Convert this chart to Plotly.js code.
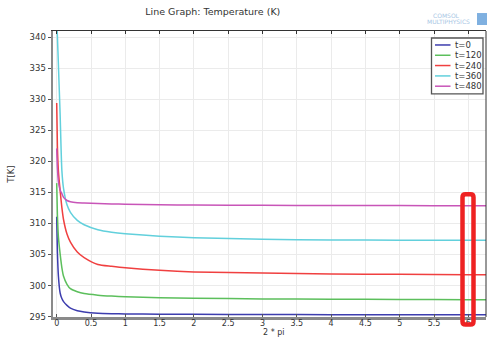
<!DOCTYPE html>
<html>
<head>
<meta charset="utf-8">
<script src="https://cdn.plot.ly/plotly-3.0.1.min.js"></script>
<style>
html,body{margin:0;padding:0;background:#fff;}
#chart{width:487px;height:337px;}
</style>
</head>
<body>
<div id="chart"></div>
<script>
// Data
const xVals = [0, 0.01, 0.025, 0.05, 0.075, 0.1, 0.15, 0.2, 0.3, 0.4, 0.6, 0.8, 1, 1.5, 2, 3, 4, 5, 6, 6.283];
const t0   = [311.1, 305.5, 301.5, 298.8, 297.9, 297.4, 296.8, 296.35, 295.95, 295.75, 295.55, 295.47, 295.43, 295.38, 295.36, 295.33, 295.31, 295.3, 295.3, 295.3];
const t120 = [316.5, 311.5, 307.8, 305.1, 302.9, 301.5, 300.2, 299.5, 299.0, 298.7, 298.45, 298.3, 298.2, 298.05, 297.95, 297.85, 297.8, 297.75, 297.72, 297.72];
const t240 = [329.4, 322.5, 318.4, 315.3, 312.6, 310.6, 308.3, 307.0, 305.4, 304.5, 303.4, 303.1, 302.85, 302.45, 302.2, 302.0, 301.85, 301.8, 301.75, 301.75];
const t360 = [343.0, 340.2, 335.5, 327.5, 318.6, 315.6, 313.0, 311.8, 310.5, 309.8, 309.0, 308.6, 308.35, 307.95, 307.7, 307.45, 307.35, 307.3, 307.28, 307.28];
const t480 = [322.1, 319.0, 316.7, 315.4, 314.8, 314.2, 313.7, 313.5, 313.35, 313.3, 313.2, 313.15, 313.1, 313.0, 312.98, 312.93, 312.9, 312.88, 312.86, 312.86];
const seriesNames = ["t=0", "t=120", "t=240", "t=360", "t=480"];
const seriesData = [t0, t120, t240, t360, t480];
const seriesColors = ["#3d3dae", "#5cbf5c", "#f04040", "#62d0dc", "#c855b8"];
const xTicks = [0, 0.5, 1, 1.5, 2, 2.5, 3, 3.5, 4, 4.5, 5, 5.5, 6];
const yTicks = [295, 300, 305, 310, 315, 320, 325, 330, 335, 340];

const FONT = "DejaVu Sans, sans-serif";
// plot area in pixels: left 53, right 486, top 31, bottom 317.5
const PL = 53, PR = 486, PT = 31, PB = 317.5;
const px = v => (v - PL) / (PR - PL);
const py = v => (PB - v) / (PB - PT);

const traces = seriesData.map((y, i) => ({
  type: "scatter", mode: "lines", x: xVals, y: y, name: seriesNames[i], showlegend: false,
  line: {color: seriesColors[i], width: 1.5, shape: "spline", smoothing: 0.6}
}));
// helper trace for the mirrored top axis
traces.push({type: "scatter", mode: "lines", x: [], y: [], xaxis: "x2", showlegend: false, hoverinfo: "skip"});

// manual legend (compact, like the reference)
const legRows = [45, 55.3, 65.6, 76, 86.3];
const shapes = [
  {type: "line", xref: "paper", yref: "paper", x0: 1, x1: 1, y0: 0, y1: 1, line: {color: "#333", width: 1}},
  {type: "rect", xref: "paper", yref: "paper", x0: px(431.5), x1: px(483), y0: py(94), y1: py(38),
    line: {color: "#555", width: 1.3}, fillcolor: "#fff"}
];
const annotations = [];
seriesNames.forEach((n, i) => {
  shapes.push({type: "line", xref: "paper", yref: "paper", x0: px(435), x1: px(450.5), y0: py(legRows[i]), y1: py(legRows[i]),
    line: {color: seriesColors[i], width: 1.5}});
  annotations.push({text: n, xref: "paper", yref: "paper", x: px(452.5), y: py(legRows[i]), xanchor: "left", yanchor: "middle",
    showarrow: false, font: {family: FONT, size: 8.5, color: "#333"}});
});

// red rounded highlight rectangle
(function () {
  const x0 = px(462.5), x1 = px(473.5), y0 = py(325), y1 = py(194.5);
  const rx = 3 / (PR - PL), ry = 3 / (PB - PT);
  const p = `M ${x0 + rx} ${y1} L ${x1 - rx} ${y1} Q ${x1} ${y1} ${x1} ${y1 - ry} L ${x1} ${y0 + ry} Q ${x1} ${y0} ${x1 - rx} ${y0} ` +
            `L ${x0 + rx} ${y0} Q ${x0} ${y0} ${x0} ${y0 + ry} L ${x0} ${y1 - ry} Q ${x0} ${y1} ${x0 + rx} ${y1} Z`;
  shapes.push({type: "path", xref: "paper", yref: "paper", path: p, line: {color: "#ee2222", width: 4.5}, fillcolor: "rgba(0,0,0,0)"});
})();

// COMSOL logo mark
shapes.push({type: "rect", xref: "paper", yref: "paper", x0: px(477), x1: px(487), y0: py(25), y1: py(13),
  line: {width: 0}, fillcolor: "#7fb0e0"});
annotations.push({text: "COMSOL", xref: "paper", yref: "paper", x: px(462), y: py(15), xanchor: "right", yanchor: "middle",
  showarrow: false, font: {family: FONT, size: 6, color: "#a8c6e4"}});
annotations.push({text: "MULTIPHYSICS", xref: "paper", yref: "paper", x: px(472), y: py(21), xanchor: "right", yanchor: "middle",
  showarrow: false, font: {family: FONT, size: 6, color: "#a8c6e4"}});
// x axis title
annotations.push({text: "2 * pi", xref: "paper", yref: "paper", x: px(273), y: py(333), xanchor: "center", yanchor: "middle",
  showarrow: false, font: {family: FONT, size: 8, color: "#333"}});

const layout = {
  width: 487, height: 337,
  margin: {l: PL, r: 487 - PR, t: PT, b: 337 - PB},
  paper_bgcolor: "#fff", plot_bgcolor: "#fff",
  font: {family: FONT, size: 9, color: "#333"},
  title: {text: "Line Graph: Temperature (K)", x: 0.437, xanchor: "center", y: 0.965, yanchor: "middle", font: {family: FONT, size: 9.5, color: "#333"}},
  showlegend: false,
  xaxis: {range: [-0.054, 6.258], tickvals: xTicks, ticktext: xTicks.map(String), showgrid: true, gridcolor: "#ebebeb", gridwidth: 1,
    zeroline: false, showline: true, linecolor: "#8a8a8a", linewidth: 2.5, ticks: "inside", ticklen: 3, tickcolor: "#555",
    ticklabelstandoff: -3, tickfont: {family: FONT, size: 8, color: "#333"}},
  xaxis2: {overlaying: "x", matches: "x", side: "top", showticklabels: false, showgrid: false, zeroline: false,
    showline: true, linecolor: "#333", linewidth: 1, ticks: "inside", ticklen: 3, tickcolor: "#333", tickvals: xTicks},
  yaxis: {range: [294.93, 341.01], tickvals: yTicks, ticktext: yTicks.map(String), showgrid: true, gridcolor: "#ebebeb", gridwidth: 1,
    zeroline: false, showline: true, linecolor: "#8a8a8a", linewidth: 2.5, ticks: "outside", ticklen: 3, tickcolor: "#555",
    tickfont: {family: FONT, size: 8.5, color: "#333"},
    title: {text: "T[K]", font: {family: FONT, size: 8.5, color: "#333"}, standoff: 14}},
  shapes: shapes,
  annotations: annotations
};

Plotly.newPlot("chart", traces, layout, {staticPlot: true, displayModeBar: false});
</script>
</body>
</html>
